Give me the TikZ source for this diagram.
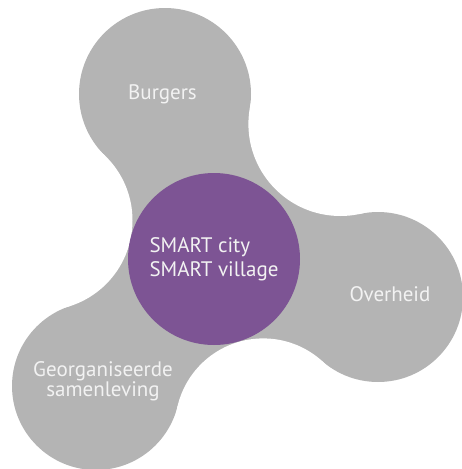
\documentclass[tikz,border=0pt]{standalone}
\usepackage{fontspec}
\setmainfont{PT Sans}
\definecolor{lobegrey}{HTML}{B4B4B4}
\definecolor{smartpurple}{HTML}{7D5494}
\definecolor{labelwhite}{HTML}{F2F2F2}
\begin{document}
\begin{tikzpicture}[x=1pt,y=-1pt,
  lbl/.style={text=labelwhite, font=\fontsize{21}{20}\selectfont, inner sep=0pt, align=center},
  lobe/.style={circle, fill=lobegrey, inner sep=0pt},
  notch/.style={circle, fill=white, inner sep=0pt}]
\useasboundingbox (0,0) rectangle (462,469);
% lobe centres
\coordinate (A) at (165,94);
\coordinate (B) at (96,386);
\coordinate (C) at (378,297);
% fillet (notch) centres
\coordinate (FL) at (42.5,220.4);
\coordinate (FR) at (340.4,124.0);
\coordinate (FB) at (263.2,426.4);
% grey body
\fill[lobegrey] (A) -- (FL) -- (B) -- (FB) -- (C) -- (FR) -- cycle;
\node[lobe, minimum size=172pt] (lobeA) at (A) {};
\node[lobe, minimum size=168pt] (lobeB) at (B) {};
\node[lobe, minimum size=170pt] (lobeC) at (C) {};
% concave necks
\node[notch, minimum size=180pt] (notchL) at (FL) {};
\node[notch, minimum size=184pt] (notchR) at (FR) {};
\node[notch, minimum size=176pt] (notchB) at (FB) {};
% centre
\node[circle, fill=smartpurple, minimum size=172pt, inner sep=0pt, text=labelwhite,
  font=\fontsize{21}{23.5}\selectfont, align=left] (smart) at (214,259) {SMART city\\SMART village};
% labels
\node[lbl, anchor=base] (burgers) at (162.5,99) {Burgers};
\node[lbl, anchor=base] (overheid) at (390,301) {Overheid};
\node[lbl] (georg) at (103,381) {Georganiseerde\\samenleving};
\end{tikzpicture}
\end{document}
